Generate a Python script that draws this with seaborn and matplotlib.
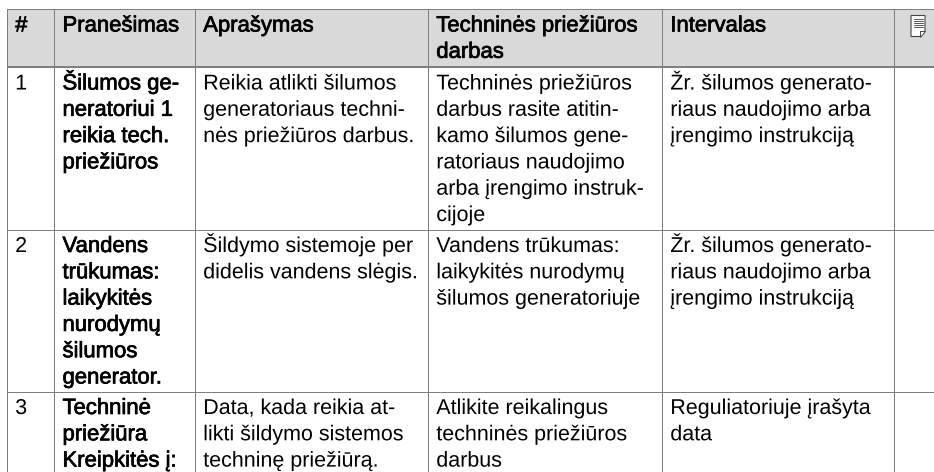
import numpy as np
import pandas as pd
import seaborn as sns
import matplotlib.pyplot as plt
import matplotlib.patheffects as pe
from matplotlib.colors import ListedColormap
from matplotlib.patches import Polygon
from matplotlib.transforms import Affine2D

# table contents
header = ["#", "Pranešimas", "Aprašymas", ["Techninės priežiūros", "darbas"], "Intervalas"]
numbers = ["1", "2", "3"]
messages = [
    ["Šilumos ge-", "neratoriui 1", "reikia tech.", "priežiūros"],
    ["Vandens", "trūkumas:", "laikykitės", "nurodymų", "šilumos", "generator."],
    ["Techninė", "priežiūra", "Kreipkitės į:"],
]
descriptions = [
    ["Reikia atlikti šilumos", "generatoriaus techni-", "nės priežiūros darbus."],
    ["Šildymo sistemoje per", "didelis vandens slėgis."],
    ["Data, kada reikia at-", "likti šildymo sistemos", "techninę priežiūrą."],
]
works = [
    ["Techninės priežiūros", "darbus rasite atitin-", "kamo šilumos gene-",
     "ratoriaus naudojimo", "arba įrengimo instruk-", "cijoje"],
    ["Vandens trūkumas:", "laikykitės nurodymų", "šilumos generatoriuje"],
    ["Atlikite reikalingus", "techninės priežiūros", "darbus"],
]
intervals = [
    ["Žr. šilumos generato-", "riaus naudojimo arba", "įrengimo instrukciją"],
    ["Žr. šilumos generato-", "riaus naudojimo arba", "įrengimo instrukciją"],
    ["Reguliatoriuje įrašyta", "data"],
]

# grid geometry in pixels of the picture
x_edges = np.array([6.5, 53.8, 194.5, 427.6, 661.6, 894.3, 960.0])
y_edges = np.array([9.5, 67.5, 230.0, 392.0, 500.0])
W, H = 934, 472
PAD = 8.7
FIRST = 22.0
PITCH = 26.3
FONT = 15.45
FONT_BOLD = 15.9
GREY = "#7f7f7f"

shade = pd.DataFrame(np.zeros((4, 6)))
shade.iloc[0, :] = 1

sns.set_theme(style="white")
plt.rcParams["font.family"] = ["Liberation Sans", "DejaVu Sans"]

fig = plt.figure(figsize=(W / 100, H / 100), dpi=100)
ax = fig.add_axes([
    x_edges[0] / W,
    (H - y_edges[-1]) / H,
    (x_edges[-1] - x_edges[0]) / W,
    (y_edges[-1] - y_edges[0]) / H,
])
sns.heatmap(
    shade,
    cmap=ListedColormap(["white", "#d9d9d9"]),
    vmin=0,
    vmax=1,
    cbar=False,
    linewidths=0.72,
    linecolor=GREY,
    xticklabels=False,
    yticklabels=False,
    ax=ax,
)

# stretch the even cells of the heatmap to the real column and row sizes
x_idx = np.arange(len(x_edges))
y_idx = np.arange(len(y_edges))
ax.set_xscale("function", functions=(lambda v: np.interp(v, x_idx, x_edges),
                                     lambda v: np.interp(v, x_edges, x_idx)))
ax.set_yscale("function", functions=(lambda v: np.interp(v, y_idx, y_edges),
                                     lambda v: np.interp(v, y_edges, y_idx)))
ax.set_xlim(0, 6)
ax.set_ylim(4, 0)
ax.set_xticks([])
ax.set_yticks([])
ax.set_xticks([], minor=True)
ax.set_yticks([], minor=True)
sns.despine(ax=ax, left=True, bottom=True)
ax.collections[0].set_clip_on(False)
ax.hlines(1, 0, 6, color=GREY, lw=1.4, clip_on=False)

px = Affine2D().scale(1, -1).translate(0, H)


def put_lines(lines, col, row, bold=False):
    if isinstance(lines, str):
        lines = [lines]
    for i, line in enumerate(lines):
        t = fig.text(x_edges[col] + PAD, y_edges[row] + FIRST + i * PITCH, line,
                     transform=px, fontsize=FONT_BOLD if bold else FONT, color="black",
                     ha="left", va="baseline")
        # drawn as paths so that the baselines stay exactly even
        if bold:
            t.set_path_effects([pe.withStroke(linewidth=0.5, foreground="black")])
        else:
            t.set_path_effects([pe.Normal()])


for c, label in enumerate(header):
    put_lines(label, c, 0, bold=True)
for r in range(3):
    put_lines(numbers[r], 0, r + 1)
    put_lines(messages[r], 1, r + 1, bold=True)
    put_lines(descriptions[r], 2, r + 1)
    put_lines(works[r], 3, r + 1)
    put_lines(intervals[r], 4, r + 1)

# note icon of the last header cell
fig.add_artist(Polygon([(911, 15.5), (925, 15.5), (925, 31), (920, 36.5), (911, 36.5)],
                       closed=True, fc="white", ec="#444444", lw=0.8, transform=px))
fig.add_artist(Polygon([(920, 36.5), (920, 31), (925, 31)],
                       closed=True, fc="white", ec="#444444", lw=0.7, transform=px))
for y in [18.5, 20.5, 22.5, 24.5, 26.5]:
    fig.add_artist(plt.Line2D([913.5, 922.5], [y, y], color="#555555", lw=0.7, transform=px))

fig.savefig("out.png", dpi=100)
